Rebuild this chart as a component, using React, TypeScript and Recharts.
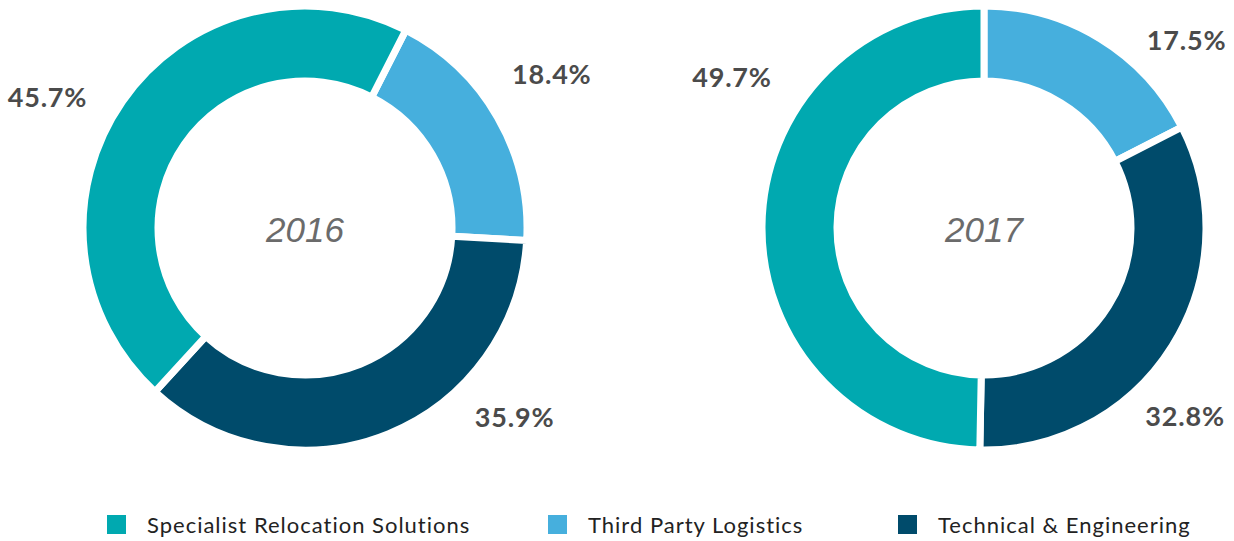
import { Cell, Pie, PieChart } from "recharts";

const segments = ["Third Party Logistics", "Technical & Engineering", "Specialist Relocation Solutions"];
const colors = ["#46AFDD", "#004B6B", "#00A9B0"];

const values2016 = [18.4, 35.9, 45.7];
const values2017 = [17.5, 32.8, 49.7];

const legendOrder = ["Specialist Relocation Solutions", "Third Party Logistics", "Technical & Engineering"];

// label placement: angle clockwise from 12 o'clock, distance from centre
const labelPos2016 = [
    { angle: 58, r: 291 },
    { angle: 132, r: 282 },
    { angle: 297, r: 289 },
];
const labelPos2017 = [
    { angle: 47, r: 277 },
    { angle: 133, r: 275 },
    { angle: 301, r: 294 },
];

const toRows = (vals: number[]) => segments.map((name, i) => ({ name, value: vals[i] }));

const makeLabel = (pos: { angle: number; r: number }[]) => (props: any) => {
    const { cx, cy, index, value } = props;
    const p = pos[index];
    const rad = (p.angle * Math.PI) / 180;
    const x = cx + p.r * Math.sin(rad);
    const y = cy - p.r * Math.cos(rad);
    return (
        <text
            x={x}
            y={y}
            textAnchor="middle"
            dominantBaseline="central"
            fill="#4b4b4b"
            fontSize={27}
            fontWeight={700}
            letterSpacing={0.8}
            fontFamily="Lato, 'Open Sans', sans-serif"
        >
            {value.toFixed(1)}%
        </text>
    );
};

const legendLeft = [107, 548, 898];

const App = () => {
    return (
        <div style={{ position: "absolute", left: 0, top: 0, width: 1234, height: 541, background: "#fff" }}>
            <PieChart width={1234} height={541} margin={{ top: 0, right: 0, bottom: 0, left: 0 }}>
                <Pie
                    data={toRows(values2016)}
                    dataKey="value"
                    cx={305}
                    cy={228}
                    innerRadius={147}
                    outerRadius={222}
                    startAngle={63}
                    endAngle={-297}
                    stroke="#fff"
                    strokeWidth={7}
                    label={makeLabel(labelPos2016)}
                    labelLine={false}
                    isAnimationActive={false}
                >
                    {segments.map((s, i) => (
                        <Cell key={s} fill={colors[i]} />
                    ))}
                </Pie>
                <Pie
                    data={toRows(values2017)}
                    dataKey="value"
                    cx={984}
                    cy={228}
                    innerRadius={147}
                    outerRadius={222}
                    startAngle={90}
                    endAngle={-270}
                    stroke="#fff"
                    strokeWidth={7}
                    label={makeLabel(labelPos2017)}
                    labelLine={false}
                    isAnimationActive={false}
                >
                    {segments.map((s, i) => (
                        <Cell key={s} fill={colors[i]} />
                    ))}
                </Pie>
                <text x={305} y={229} textAnchor="middle" dominantBaseline="central" fill="#6b6b6b" fontSize={35} fontStyle="italic" fontFamily="'Liberation Sans', Arial, sans-serif">
                    2016
                </text>
                <text x={984} y={229} textAnchor="middle" dominantBaseline="central" fill="#6b6b6b" fontSize={35} fontStyle="italic" fontFamily="'Liberation Sans', Arial, sans-serif">
                    2017
                </text>
            </PieChart>
            {legendOrder.map((name, i) => (
                <div
                    key={name}
                    style={{
                        position: "absolute",
                        left: legendLeft[i],
                        top: 511,
                        display: "flex",
                        alignItems: "center",
                        gap: 21,
                        fontFamily: "Lato, 'Open Sans', sans-serif",
                        fontSize: 22,
                        letterSpacing: 1,
                        color: "#222",
                        whiteSpace: "nowrap",
                    }}
                >
                    <span style={{ width: 19, height: 19, background: colors[segments.indexOf(name)], display: "inline-block" }} />
                    <span>{name}</span>
                </div>
            ))}
        </div>
    );
};

export default App;
